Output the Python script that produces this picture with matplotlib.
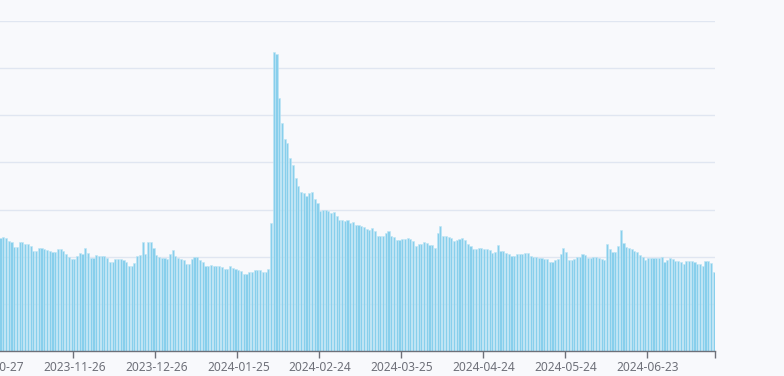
import matplotlib
matplotlib.use("Agg")
import matplotlib.pyplot as plt
import pandas as pd

# daily values, one per category, starting 2023-10-27
start_date = "2023-10-27"
values = [
    24.5, 24.6, 24.3, 24.0, 24.2, 23.9, 23.4, 23.1, 22.1, 22.1,
    23.1, 23.1, 22.6, 22.6, 22.3, 21.2, 21.2, 21.9, 21.8, 21.6,
    21.4, 21.2, 20.9, 20.9, 21.6, 21.6, 21.2, 20.6, 19.9, 19.5,
    19.5, 20.2, 20.7, 20.6, 21.8, 20.7, 19.7, 19.7, 20.4, 20.1,
    20.1, 20.1, 19.7, 18.8, 18.8, 19.5, 19.5, 19.5, 19.2, 18.8,
    18.0, 18.0, 18.7, 20.1, 20.4, 23.1, 20.6, 23.1, 23.1, 21.8,
    20.4, 19.9, 19.8, 19.8, 19.5, 20.5, 21.5, 20.2, 19.7, 19.5,
    19.2, 18.4, 18.4, 19.5, 19.9, 19.9, 19.2, 18.9, 18.0, 18.0,
    18.2, 18.1, 18.1, 18.0, 17.8, 17.3, 17.5, 18.0, 17.7, 17.5,
    17.1, 17.0, 16.3, 16.3, 16.7, 16.8, 17.1, 17.1, 17.1, 16.8,
    16.8, 17.3, 27.2, 63.4, 62.9, 53.7, 48.3, 45.0, 44.1, 40.9,
    39.5, 36.7, 35.1, 33.8, 33.6, 32.8, 33.5, 33.7, 32.3, 31.3,
    29.8, 29.9, 29.9, 29.6, 29.3, 29.4, 28.6, 27.8, 27.8, 27.5,
    27.8, 27.2, 27.3, 26.7, 26.7, 26.5, 26.4, 25.9, 25.7, 26.1,
    25.4, 24.4, 24.4, 24.5, 25.1, 25.4, 24.5, 24.2, 23.6, 23.5,
    23.8, 23.8, 23.9, 23.8, 23.3, 22.2, 22.8, 22.8, 23.1, 23.0,
    22.5, 22.5, 21.9, 25.0, 26.5, 24.3, 24.3, 24.2, 23.9, 23.3,
    23.6, 23.8, 23.9, 23.5, 22.6, 22.2, 21.6, 21.6, 21.8, 21.8,
    21.6, 21.6, 21.4, 20.8, 21.1, 22.5, 21.2, 21.2, 20.8, 20.5,
    20.1, 20.1, 20.6, 20.5, 20.6, 20.7, 20.7, 20.2, 20.0, 20.0,
    19.7, 19.7, 19.5, 19.5, 18.9, 18.9, 19.3, 19.5, 20.6, 21.8,
    20.9, 19.3, 19.3, 19.6, 19.9, 19.9, 20.6, 20.4, 19.7, 19.7,
    20.0, 20.0, 19.7, 19.5, 19.2, 22.6, 21.7, 20.9, 20.9, 22.3,
    25.7, 23.0, 22.0, 21.8, 21.6, 21.2, 20.9, 20.4, 20.0, 19.3,
    19.7, 19.8, 19.7, 19.7, 19.7, 19.9, 18.9, 19.2, 19.8, 19.6,
    19.1, 19.1, 18.9, 18.5, 19.1, 19.1, 19.1, 18.8, 18.5, 18.4,
    18.1, 19.1, 19.1, 18.7, 16.8,
]
dates = pd.date_range(start_date, periods=len(values), freq="D")
labels = [d.strftime("%Y-%m-%d") for d in dates]
label_step = 30
y_max = 70
y_step = 10

bg = "#f8f9fc"
axis_col = "#6e7079"

fig = plt.figure(figsize=(7.84, 3.76), dpi=100, facecolor=bg)
ax = fig.add_axes([-9 / 784, 25 / 376, 724 / 784, 330 / 376])
ax.set_facecolor(bg)

n = len(values)
x = list(range(n))
ax.bar(x, values, width=0.78, color="#88cfec", edgecolor="#bfe5f5",
       linewidth=0.4, zorder=2)

ax.set_xlim(-0.5, n - 0.5)
ax.set_ylim(0, y_max)

# gridlines
ax.set_yticks(range(0, y_max + 1, y_step))
ax.yaxis.grid(True, color="#e0e6f1", linewidth=1, zorder=0)
ax.tick_params(axis="y", left=False, labelleft=False)

# tick marks at category boundaries, labels at category centers
idx = list(range(0, n, label_step))
ax.set_xticks([i - 0.5 for i in idx] + [n - 0.5])
ax.set_xticklabels([])
ax.tick_params(axis="x", which="major", length=5, width=1, color=axis_col)
ax.set_xticks(idx, [labels[i] for i in idx], minor=True)
ax.tick_params(axis="x", which="minor", length=0, pad=7,
               labelsize=8.6, labelcolor=axis_col)
for t in ax.get_xticklabels(minor=True):
    t.set_fontfamily("Noto Sans")

for s in ["top", "right", "left"]:
    ax.spines[s].set_visible(False)
ax.spines["bottom"].set_color(axis_col)
ax.spines["bottom"].set_linewidth(1)
ax.spines["bottom"].set_zorder(3)

fig.savefig("out.png", dpi=100, facecolor=bg)
